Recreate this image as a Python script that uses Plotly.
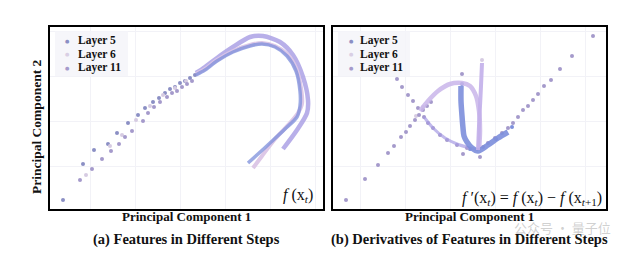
import plotly.graph_objects as go

# ---------------- data (PC1, PC2 in arbitrary projected units) ----------------
# Panel (a): features f(x_t)
a_l5_dots_x = [63, 83, 94, 108, 117, 128, 138, 145, 153, 159, 165, 170, 175, 180, 185, 190, 195]
a_l5_dots_y = [56, 92, 106, 112, 123, 133, 141, 148, 154, 158, 163, 167, 169, 173, 175, 178, 181]
a_l11_dots_x = [80, 92, 102, 111, 119, 125, 132, 143, 148, 154, 160, 167, 172, 177, 182, 187, 192]
a_l11_dots_y = [76, 87, 97, 105, 112, 119, 125, 135, 143, 149, 154, 159, 163, 165, 169, 172, 175]
a_l6_dots_x = [86, 110, 122, 136, 150, 163, 175, 186]
a_l6_dots_y = [81, 110, 121, 136, 150, 161, 168, 175]

a_l11_curve_x = [196, 205, 217, 233, 250, 263, 280, 293, 303, 308, 307, 297, 283]
a_l11_curve_y = [183, 189, 198, 209, 219, 220, 214, 201, 179, 156, 143, 126, 107]
a_l5_curve_x = [196, 205, 217, 233, 250, 262, 275, 287, 296, 300, 300, 297, 285, 270, 258, 248]
a_l5_curve_y = [181, 186, 195, 204, 210, 212, 209, 200, 185, 165, 150, 139, 127, 113, 102, 93]
a_l6_curve_x = [196, 205, 217, 233, 250, 262, 275, 287, 296, 301, 302, 298, 290, 275, 262, 253]
a_l6_curve_y = [182, 187, 196, 205, 211, 213, 210, 202, 188, 168, 152, 143, 133, 117, 100, 88]

# Panel (b): derivatives f'(x_t)
b_l11_dots_x = [346, 365, 378, 388, 394, 401, 406, 410, 415, 419, 423, 427, 431,
                397, 402, 408, 413, 418, 424, 428, 433, 440, 447, 457, 467,
                483, 488, 495, 502, 508, 513, 518, 523, 528, 533, 538, 544, 551, 560, 572, 593,
                463, 480, 462]
b_l11_dots_y = [56, 77, 91, 103, 110, 119, 124, 130, 136, 141, 146, 150, 154,
                177, 169, 161, 155, 148, 139, 133, 128, 121, 116, 111, 108,
                109, 113, 118, 123, 128, 133, 139, 146, 150, 156, 162, 170, 176, 187, 200, 220,
                102, 99, 182]
b_l11_line_x = [424, 433, 445, 457, 470, 478]
b_l11_line_y = [139, 128, 118, 112, 108, 106]

b_l5_line_x = [461, 461, 462, 463, 464, 467, 472, 478, 488, 498, 508]
b_l5_line_y = [170, 155, 140, 128, 120, 114, 108, 105, 111, 118, 124]
b_l5_dots_x = [462, 470, 496, 512]
b_l5_dots_y = [172, 107, 117, 129]

b_l6_arc_x = [420, 428, 438, 450, 462, 470, 476, 479, 480, 479]
b_l6_arc_y = [145, 155, 165, 172, 173, 170, 160, 145, 125, 106]
b_l6_vert_x = [482, 481, 480, 479, 478]
b_l6_vert_y = [193, 170, 150, 130, 106]
b_l6_dots_x = [416, 423, 482]
b_l6_dots_y = [140, 149, 196]

layer_names = ["Layer 5", "Layer 6", "Layer 11"]
legend_colors = ["#8b8fc4", "#d9cfe4", "#a59acb"]

C5 = "#7d8fdc"
C6 = "#dcc6e6"
C11 = "#a79ce4"
D5 = "#8b8fc4"
D6 = "#d6cbe2"
D11 = "#a59acb"

fig = go.Figure()

def dots(x, y, color, xa, ya):
    fig.add_trace(go.Scatter(x=x, y=y, mode="markers", showlegend=False, xaxis=xa, yaxis=ya,
                             marker=dict(color=color, size=4, line=dict(width=0))))

def line(x, y, color, xa, ya, w=4.5, op=0.9):
    fig.add_trace(go.Scatter(x=x, y=y, mode="lines", showlegend=False, xaxis=xa, yaxis=ya,
                             opacity=op,
                             line=dict(color=color, width=w, shape="spline", smoothing=0.8)))

# panel (a)
dots(a_l5_dots_x, a_l5_dots_y, D5, "x", "y")
dots(a_l6_dots_x, a_l6_dots_y, D6, "x", "y")
dots(a_l11_dots_x, a_l11_dots_y, D11, "x", "y")
line(a_l11_curve_x, a_l11_curve_y, C11, "x", "y", 4.5, 0.8)
line(a_l6_curve_x, a_l6_curve_y, C6, "x", "y", 4, 0.95)
line(a_l5_curve_x, a_l5_curve_y, C5, "x", "y", 3.5, 0.75)

# panel (b)
dots(b_l5_dots_x, b_l5_dots_y, C5, "x2", "y2")
dots(b_l6_dots_x, b_l6_dots_y, D6, "x2", "y2")
dots(b_l11_dots_x, b_l11_dots_y, D11, "x2", "y2")
line(b_l11_line_x, b_l11_line_y, C11, "x2", "y2", 3, 0.7)
line(b_l6_arc_x, b_l6_arc_y, "#c9b6ea", "x2", "y2", 4.5, 0.85)
line(b_l5_line_x, b_l5_line_y, C5, "x2", "y2", 5.5, 0.9)
line(b_l6_vert_x, b_l6_vert_y, "#c3b0ea", "x2", "y2", 4, 0.9)

ax = dict(showticklabels=False, ticks="", showline=True, linecolor="black", linewidth=2,
          mirror=True, gridcolor="#f2f2f7", gridwidth=1, zeroline=False)
W, H = 640, 256
fig.update_layout(
    width=W, height=H, margin=dict(l=0, r=0, t=0, b=0),
    paper_bgcolor="white", plot_bgcolor="white", showlegend=False,
    xaxis=dict(ax, domain=[50 / W, 323 / W], range=[50, 323], dtick=45),
    yaxis=dict(ax, domain=[1 - 209 / H, 1 - 27 / H], range=[47, 229], dtick=45),
    xaxis2=dict(ax, domain=[333 / W, 606 / W], range=[333, 606], dtick=45),
    yaxis2=dict(ax, domain=[1 - 209 / H, 1 - 27 / H], range=[47, 229], dtick=45, anchor="x2"),
)

serif = "Liberation Serif"

# legends (boxes + entries), one per panel
for bx0, bx1, mx, tx in [(55, 128, 67, 76), (338, 410, 351, 358)]:
    fig.add_shape(type="rect", xref="paper", yref="paper", x0=bx0 / W, x1=bx1 / W,
                  y0=1 - 76 / H, y1=1 - 31 / H, line=dict(width=0),
                  fillcolor="rgba(244,244,249,0.85)", layer="above")
    for i, (nm, col) in enumerate(zip(layer_names, legend_colors)):
        yy = 1 - (40.5 + 13.5 * i) / H
        fig.add_annotation(text="●", x=mx / W, y=yy, xref="paper", yref="paper",
                           showarrow=False, xanchor="center", yanchor="middle",
                           font=dict(family="DejaVu Sans", size=5, color=col))
        fig.add_annotation(text="<b>" + nm + "</b>", x=tx / W, y=yy, xref="paper", yref="paper",
                           showarrow=False, xanchor="left", yanchor="middle",
                           font=dict(family=serif, size=11.5, color="#111"))

ann = [
    dict(text="<b>Principal Component 1</b>", x=186.5 / W, y=1 - 216 / H, size=13),
    dict(text="<b>Principal Component 1</b>", x=469.5 / W, y=1 - 216 / H, size=13),
    dict(text="<b>(a) Features in Different Steps</b>", x=186 / W, y=1 - 239 / H, size=14.5),
    dict(text="<b>(b) Derivatives of Features in Different Steps</b>", x=469 / W, y=1 - 239 / H, size=14.5),
]
for a in ann:
    fig.add_annotation(text=a["text"], x=a["x"], y=a["y"], xref="paper", yref="paper",
                       showarrow=False, xanchor="center", yanchor="middle",
                       font=dict(family=serif, size=a["size"], color="#111"))
fig.add_annotation(text="<b>Principal Component 2</b>", x=36 / W, y=1 - 127 / H,
                   xref="paper", yref="paper", showarrow=False, textangle=-90,
                   xanchor="center", yanchor="middle",
                   font=dict(family=serif, size=13.5, color="#111"))
fig.add_annotation(text="<i>f</i> (x<sub><i>t</i></sub>)", x=315 / W, y=1 - 195 / H,
                   xref="paper", yref="paper", showarrow=False, xanchor="right", yanchor="middle",
                   font=dict(family=serif, size=16, color="#111"))
fig.add_annotation(text="<i>f</i> ′(x<sub><i>t</i></sub>) = <i>f</i> (x<sub><i>t</i></sub>) − <i>f</i> (x<sub><i>t</i>+1</sub>)",
                   x=604 / W, y=1 - 198 / H, xref="paper", yref="paper", showarrow=False,
                   xanchor="right", yanchor="middle", font=dict(family=serif, size=16, color="#111"))
fig.add_annotation(text="公众号 · 量子位", x=562 / W, y=1 - 227 / H, xref="paper", yref="paper",
                   showarrow=False, xanchor="center", yanchor="middle",
                   font=dict(family="Noto Sans CJK SC", size=13, color="rgba(150,150,150,0.45)"))

fig.write_html("out.html")
